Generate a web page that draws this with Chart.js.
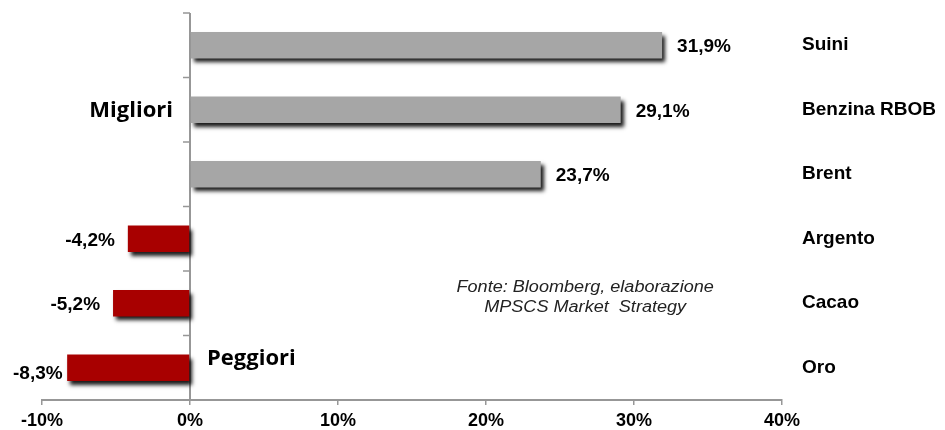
<!DOCTYPE html>
<html>
<head>
<meta charset="utf-8">
<script src="https://cdn.jsdelivr.net/npm/chart.js@4.4.1/dist/chart.umd.min.js"></script>
<style>
  html, body { margin: 0; padding: 0; background: #fff; }
  .wrap { width: 945px; height: 430px; position: relative; }
</style>
</head>
<body>
<div class="wrap"><canvas class="myChart"></canvas></div>
<script>
// data
const categories = ['Suini', 'Benzina RBOB', 'Brent', 'Argento', 'Cacao', 'Oro'];
const changes = [31.9, 29.1, 23.7, -4.2, -5.2, -8.3];
const xTicks = [-10, 0, 10, 20, 30, 40];
const bestLabel = 'Migliori';
const worstLabel = 'Peggiori';
const sourceLines = ['Fonte: Bloomberg, elaborazione', 'MPSCS Market  Strategy'];

const GREY = '#a6a6a6';
const RED = '#a80000';
const AXIS = '#979797';
const ARIAL = "'Liberation Sans', Arial, sans-serif";

const fmt = v => v.toFixed(1).replace('.', ',') + '%';

// zero line with category ticks, bar shadows, value labels and notes
const decorations = {
  id: 'decorations',
  beforeDatasetsDraw(chart) {
    const { ctx, chartArea, scales: { x, y } } = chart;
    const x0 = x.getPixelForValue(0);
    const step = y.getPixelForValue(1) - y.getPixelForValue(0);
    ctx.save();
    ctx.strokeStyle = AXIS;
    ctx.lineWidth = 2;
    ctx.beginPath();
    ctx.moveTo(x0, chartArea.top);
    ctx.lineTo(x0, chartArea.bottom);
    ctx.stroke();
    ctx.lineWidth = 1.5;
    ctx.beginPath();
    for (let i = 0; i <= categories.length; i++) {
      const yy = y.getPixelForValue(i) - step / 2;
      ctx.moveTo(x0 - 7, yy);
      ctx.lineTo(x0, yy);
    }
    ctx.stroke();
    ctx.restore();

    ctx.save();
    ctx.shadowColor = 'rgba(0, 0, 0, 0.9)';
    ctx.shadowBlur = 4;
    ctx.shadowOffsetX = 3;
    ctx.shadowOffsetY = 4;
  },
  afterDatasetsDraw(chart) {
    const { ctx, scales: { x, y } } = chart;
    ctx.restore();

    ctx.save();
    ctx.fillStyle = '#000';
    ctx.font = 'bold 19px ' + ARIAL;
    ctx.textBaseline = 'middle';
    ctx.textAlign = 'left';
    chart.getDatasetMeta(0).data.forEach((bar, i) => {
      const txt = fmt(changes[i]);
      if (changes[i] >= 0) {
        ctx.fillText(txt, bar.x + 15, bar.y + 2);
      } else {
        // no room on the left: the label is pushed in and a bit down
        const w = ctx.measureText(txt).width;
        const want = bar.x - 13 - w;
        const left = Math.max(want, 13);
        ctx.fillText(txt, left, bar.y + (want < 13 ? 6 : 2));
      }
    });

    const x0 = x.getPixelForValue(0);
    ctx.font = "bold 22px 'Open Sans', sans-serif";
    ctx.textBaseline = 'alphabetic';
    ctx.textAlign = 'right';
    ctx.fillText(bestLabel, x0 - 17, y.getPixelForValue(1) + 7);
    ctx.textAlign = 'left';
    ctx.fillText(worstLabel, x0 + 17, y.getPixelForValue(5) - 3);

    ctx.font = 'italic 16px ' + ARIAL;
    ctx.textAlign = 'center';
    ctx.fillStyle = '#222';
    const cx = x.getPixelForValue(26.7);
    sourceLines.forEach((line, i) => {
      ctx.save();
      ctx.translate(cx, y.getPixelForValue(4) - 11 + i * 20);
      ctx.scale(1.13, 1);
      ctx.fillText(line, 0, 0);
      ctx.restore();
    });
    ctx.restore();
  }
};

const ctx = document.querySelector('.myChart').getContext('2d');
new Chart(ctx, {
  type: 'bar',
  data: {
    labels: categories,
    datasets: [{
      data: changes,
      backgroundColor: changes.map(v => (v >= 0 ? GREY : RED)),
      borderWidth: 0,
      barPercentage: 0.41,
      categoryPercentage: 1,
    }],
  },
  options: {
    indexAxis: 'y',
    responsive: true,
    maintainAspectRatio: false,
    animation: false,
    devicePixelRatio: 1,
    layout: { padding: { left: 42, top: 13, right: 0, bottom: 0 } },
    plugins: {
      legend: { display: false },
      tooltip: { enabled: false },
    },
    scales: {
      x: {
        min: xTicks[0],
        max: xTicks[xTicks.length - 1],
        ticks: {
          stepSize: 10,
          callback: v => v + '%',
          color: '#000',
          padding: 7,
          font: { family: ARIAL, weight: 'bold', size: 18, lineHeight: 1 },
        },
        grid: { drawOnChartArea: false, tickLength: 5, color: AXIS, lineWidth: 1.5 },
        border: { color: AXIS, width: 2 },
        afterFit: s => {
          s.height = 30;
        },
      },
      y: {
        position: 'right',
        grid: { display: false, drawTicks: false },
        border: { display: false },
        ticks: {
          color: '#000',
          padding: 20,
          font: { family: ARIAL, weight: 'bold', size: 19 },
        },
        afterFit: s => {
          s.width = 163;
          s.paddingTop = 0;
          s.paddingBottom = 0;
        },
      },
    },
  },
  plugins: [decorations],
});
</script>
</body>
</html>
